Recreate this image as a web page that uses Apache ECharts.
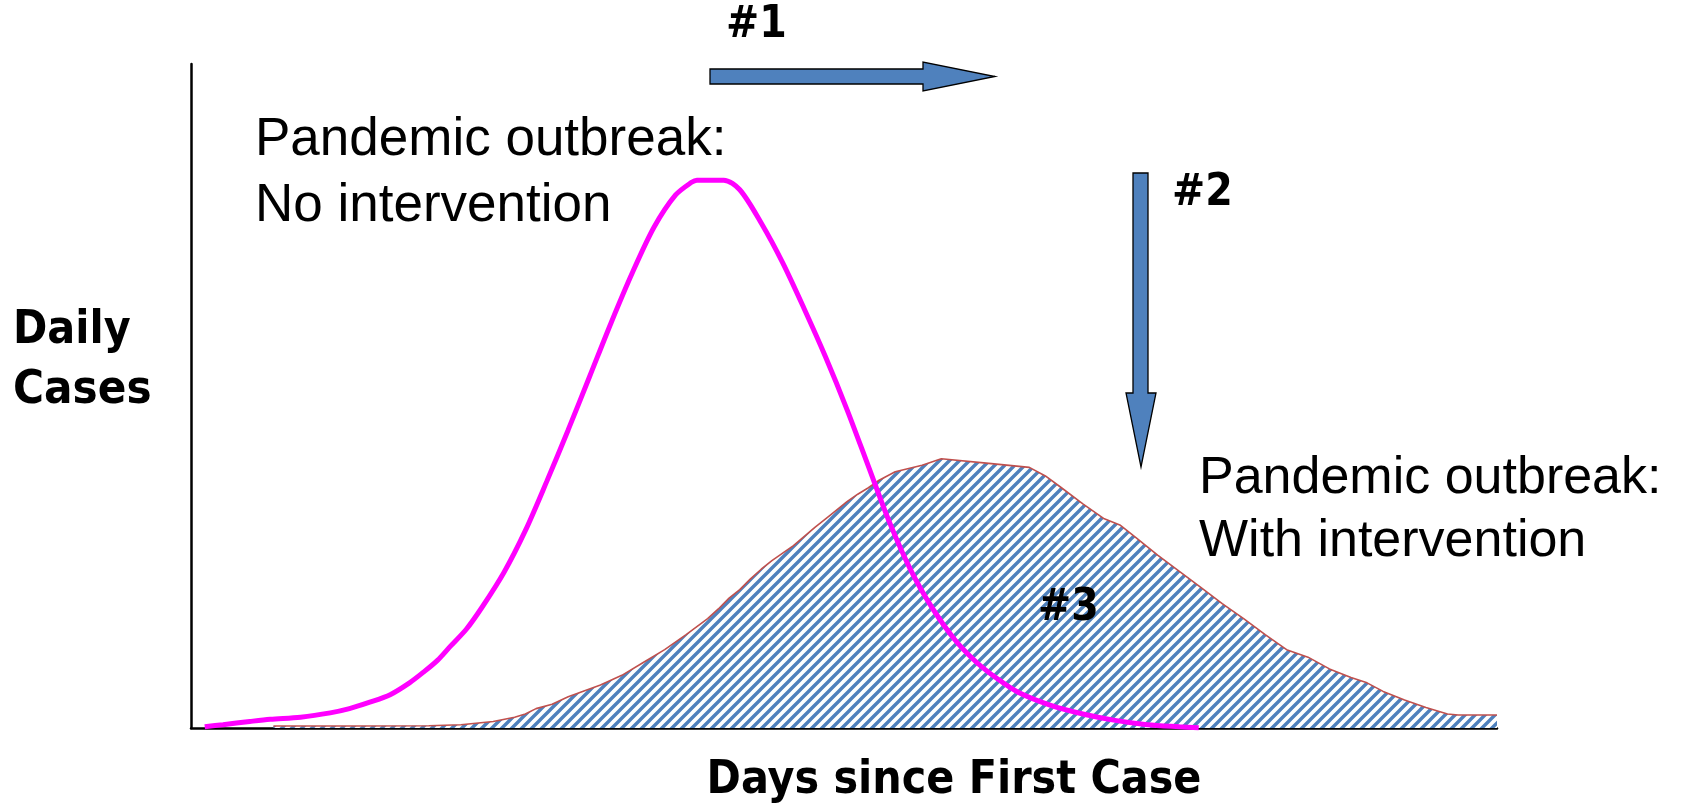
<!DOCTYPE html>
<html>
<head>
<meta charset="utf-8">
<script src="https://cdn.jsdelivr.net/npm/echarts@6/dist/echarts.min.js"></script>
<style>
html,body{margin:0;padding:0;background:#fff;}
#chart{width:1681px;height:807px;}
</style>
</head>
<body>
<div id="chart"></div>
<script>
// Days since first case (0..100 axis units) and daily cases (0..100 relative units)
const noInterventionDays = [1.05,2.45,4.5,6.06,8.39,10.66,12.13,13.69,15.25,16.73,17.8,18.87,19.85,21.08,22.31,23.96,25.6,27.24,28.88,30.53,32.17,33.81,35.45,37.09,38.33,38.74,40.79,42.02,43.66,45.3,46.95,48.59,50.23,51.87,53.51,55.16,56.8,58.44,60.08,61.72,63.37,65.83,68.29,70.75,73.22,75.68,77.16];
const noInterventionCases = [0.18,0.5,0.98,1.31,1.63,2.28,2.92,3.89,5.02,6.8,8.41,10.19,12.29,14.87,18.26,23.42,29.72,37.14,44.89,52.97,61.04,68.63,75.41,80.25,82.19,82.51,82.51,81.06,76.05,70.08,63.14,55.87,47.96,39.4,30.85,23.58,17.93,13.41,10.02,7.44,5.34,3.41,2.11,1.15,0.5,0.18,0.02];

const withInterventionDays = [6.31,12.46,18.21,20.67,23.14,24.78,25.6,26.42,27.65,28.88,31.35,32.99,34.63,36.27,37.91,39.56,40.38,41.2,42.02,42.84,43.66,44.48,46.13,47.77,49.0,50.23,51.05,51.87,52.69,53.92,55.98,57.45,60.9,64.19,65.42,66.65,68.29,69.93,71.17,72.4,74.04,75.68,77.32,78.96,80.6,82.25,83.89,85.53,87.17,88.82,90.05,91.28,92.92,94.56,96.21,97.03,100];
const withInterventionCases = [0.3,0.3,0.34,0.5,0.98,1.63,2.11,2.92,3.57,4.7,6.47,7.93,9.86,11.8,14.06,16.48,17.93,19.55,20.84,22.45,23.91,25.2,27.46,30.21,32.14,34.08,35.21,36.18,37.31,38.6,39.57,40.54,39.89,39.25,37.96,36.18,33.76,31.5,30.53,28.59,26.01,23.59,21.17,18.74,16.48,14.06,11.8,10.67,8.9,7.6,6.8,5.51,4.2,3.08,2.11,1.95,1.95];

const yAxisTitle = ['Daily', 'Cases'];
const xAxisTitle = 'Days since First Case';
const labelNoIntervention = ['Pandemic outbreak:', 'No intervention'];
const labelWithIntervention = ['Pandemic outbreak:', 'With intervention'];
const markerLabels = ['#1', '#2', '#3'];

function zip(a, b) { return a.map((v, i) => [v, b[i]]); }

function makeHatch() {
  const c = document.createElement('canvas');
  c.width = 10; c.height = 10;
  const ctx = c.getContext('2d');
  ctx.fillStyle = '#ffffff';
  ctx.fillRect(0, 0, 10, 10);
  ctx.strokeStyle = '#4F81BD';
  ctx.lineWidth = 3.4;
  ctx.beginPath();
  ctx.moveTo(-5, 5); ctx.lineTo(5, -5);
  ctx.moveTo(0, 10); ctx.lineTo(10, 0);
  ctx.moveTo(5, 15); ctx.lineTo(15, 5);
  ctx.stroke();
  return c;
}

const REG = '"Liberation Sans", Arial, sans-serif';
const BOLD = '"DejaVu Sans Condensed", "Liberation Sans", Arial, sans-serif';
const BLUE = '#4F81BD';

function txt(text, x, y, size, bold, align) {
  return {
    type: 'text', x: x, y: y, z: 100,
    style: {
      text: text, fill: '#000',
      font: (bold ? 'bold ' : '') + size + 'px ' + (bold ? BOLD : REG),
      textAlign: align || 'left', textVerticalAlign: 'middle'
    }
  };
}

const chart = echarts.init(document.getElementById('chart'), null, { renderer: 'canvas' });
chart.setOption({
  animation: false,
  backgroundColor: '#ffffff',
  grid: { left: 191, right: 184, top: 64, bottom: 79 },
  xAxis: {
    type: 'value', min: 0, max: 100,
    axisLine: { show: true, onZero: false, lineStyle: { color: '#000', width: 2.5 } },
    axisTick: { show: false }, axisLabel: { show: false }, splitLine: { show: false }
  },
  yAxis: {
    type: 'value', min: 0, max: 100,
    axisLine: { show: true, onZero: false, lineStyle: { color: '#000', width: 2.5 } },
    axisTick: { show: false }, axisLabel: { show: false }, splitLine: { show: false }
  },
  series: [
    {
      name: 'With intervention', type: 'line', data: zip(withInterventionDays, withInterventionCases),
      showSymbol: false, smooth: false, clip: false,
      lineStyle: { color: '#C0504D', width: 1.6 },
      areaStyle: { color: { image: makeHatch(), repeat: 'repeat' }, opacity: 1 },
      z: 2
    },
    {
      name: 'No intervention', type: 'line', data: zip(noInterventionDays, noInterventionCases),
      showSymbol: false, smooth: 0.3, clip: false,
      lineStyle: { color: '#FF00FF', width: 5 },
      z: 3
    }
  ],
  graphic: [
    {
      type: 'polygon', z: 100,
      shape: { points: [[710,69],[923,69],[923,62],[995,76.5],[923,91],[923,84],[710,84]] },
      style: { fill: BLUE, stroke: '#000', lineWidth: 1.3 }
    },
    {
      type: 'polygon', z: 100,
      shape: { points: [[1133,173],[1148,173],[1148,393],[1156,393],[1141,467],[1126,393],[1133,393]] },
      style: { fill: BLUE, stroke: '#000', lineWidth: 1.3 }
    },
    txt(markerLabels[0], 726, 26, 44, true),
    txt(markerLabels[1], 1172, 194, 44, true),
    txt(markerLabels[2], 1038, 609, 44, true),
    txt(labelNoIntervention[0], 255, 140, 53, false),
    txt(labelNoIntervention[1], 255, 206, 53, false),
    txt(labelWithIntervention[0], 1199, 479, 52, false),
    txt(labelWithIntervention[1], 1199, 542, 52, false),
    txt(yAxisTitle[0], 13, 331, 46, true),
    txt(yAxisTitle[1], 13, 391, 47, true),
    txt(xAxisTitle, 954, 781, 46, true, 'center')
  ]
});
</script>
</body>
</html>
